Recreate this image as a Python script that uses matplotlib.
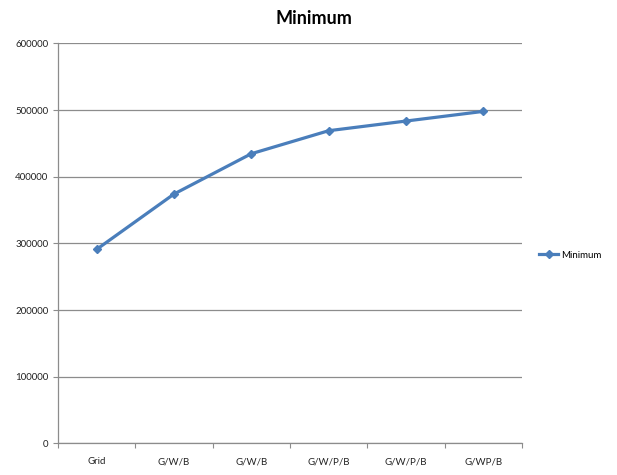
import matplotlib
matplotlib.use("Agg")
import matplotlib.pyplot as plt
from matplotlib.ticker import FixedLocator, NullFormatter, FixedFormatter

categories = ["Grid", "G/W/B", "G/W/B", "G/W/P/B", "G/W/P/B", "G/WP/B"]
minimum_values = [291000, 374000, 434500, 469000, 483500, 498000]
y_ticks = [0, 100000, 200000, 300000, 400000, 500000, 600000]
series_name = "Minimum"

plt.rcParams['font.family'] = ['Lato', 'DejaVu Sans']

fig = plt.figure(figsize=(6.17, 4.75), dpi=100)
ax = fig.add_axes([58/617, 1 - 443.3/475, (522 - 58)/617, (443.3 - 43.4)/475])

x = list(range(len(categories)))
line, = ax.plot(x, minimum_values, color="#4A7EBB", linewidth=2.3, marker="D",
                markersize=4.5, markerfacecolor="#4A7EBB", markeredgecolor="#4A7EBB",
                label=series_name)

ax.set_xlim(-0.5, len(categories) - 0.5)
ax.set_ylim(0, 600000)

ax.set_yticks(y_ticks)
ax.set_yticklabels([str(v) for v in y_ticks])
ax.yaxis.grid(True, color="#8C8C8C", linewidth=0.9)
ax.set_axisbelow(True)

ax.xaxis.set_major_locator(FixedLocator([i - 0.5 for i in range(len(categories) + 1)]))
ax.xaxis.set_major_formatter(NullFormatter())
ax.xaxis.set_minor_locator(FixedLocator(x))
ax.xaxis.set_minor_formatter(FixedFormatter(categories))
ax.tick_params(axis="x", which="major", length=3.5, color="#8C8C8C", direction="out")
ax.tick_params(axis="x", which="minor", length=0, pad=10, labelsize=7, labelcolor="#222222")
ax.tick_params(axis="y", length=3.5, color="#8C8C8C", direction="out", pad=3.5,
               labelsize=7, labelcolor="#222222")

for s in ["top", "right"]:
    ax.spines[s].set_visible(False)
for s in ["left", "bottom"]:
    ax.spines[s].set_color("#8C8C8C")
    ax.spines[s].set_linewidth(0.9)

fig.text(314/617, 1 - 18/475, "Minimum", ha="center", va="center",
         fontsize=13, fontweight="bold")

fig.legend(handles=[line], loc="center left", bbox_to_anchor=(539/617, 1 - 255/475),
           frameon=False, fontsize=7, handlelength=2.0, handletextpad=0.3,
           borderaxespad=0, borderpad=0)

fig.savefig("out.png", dpi=100)
